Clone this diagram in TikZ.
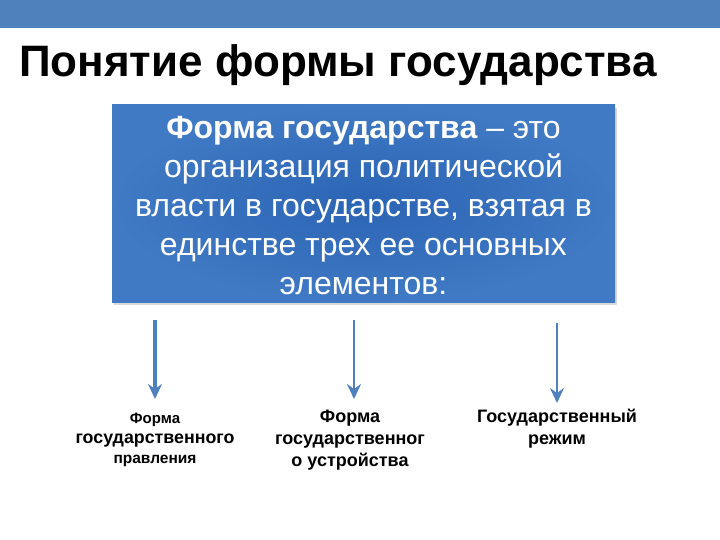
\documentclass[tikz,border=0pt]{standalone}
\usepackage{fontspec}
\setmainfont{Liberation Sans}
\usepackage{tikz}
\usetikzlibrary{calc,arrows,arrows.meta,shapes,positioning,shadows}

\definecolor{barblue}{RGB}{79,129,189}
\definecolor{boxblue}{RGB}{42,100,180}
\definecolor{boxlight}{RGB}{64,122,196}

\begin{document}
\begin{tikzpicture}[x=1pt, y=-1pt, auto,
    elem/.style={align=center, font=\bfseries\fontsize{18}{22}\selectfont, inner sep=0pt},
    arr/.style={-{Stealth[length=15pt, width=14pt, inset=5pt]}, draw=barblue, line width=3.2pt}]
   \useasboundingbox (0,0) rectangle (720,540);
   \fill[white] (0,0) rectangle (720,540);
   \node[fill=barblue, minimum width=720pt, minimum height=28pt, inner sep=0pt, anchor=north west] (bar) at (0,0) {};
   \node[anchor=base west, font=\bfseries\fontsize{44}{48}\selectfont, inner sep=0pt] (title) at (19,77) {Понятие формы государства};
   \node[minimum width=503pt, minimum height=197pt, inner sep=0pt, drop shadow={shadow xshift=2pt, shadow yshift=-3pt, opacity=.3},
         inner color=boxblue, outer color=boxlight] (def) at (363.5,203.5) {};
   \node[text=white, align=center, inner sep=0pt,
         font=\fontsize{32}{39}\selectfont] (deftext) at (363.5,206)
         {\textbf{Форма государства} -- это\\организация политической\\власти в государстве, взятая в\\единстве трех ее основных\\элементов:};
   \node[elem, font=\bfseries\fontsize{15}{20}\selectfont] (g1) at (155,440)
         {Форма\\{\fontsize{17.8}{20}\selectfont государственного}\\{\fontsize{15.5}{20}\selectfont правления}};
   \node[elem] (g2) at (350,440) {Форма\\государственног\\о устройства};
   \node[elem] (g3) at (557,429) {Государственный\\режим};
   \coordinate (s1) at (155,320);
   \coordinate (s2) at (354,320);
   \coordinate (s3) at (557,323);
   \coordinate (e1) at (155,399);
   \coordinate (e2) at (354,399);
   \coordinate (e3) at (557,403);

   \draw[arr] (s1) -- (e1);
   \draw[arr, line width=2.6pt] (s2) -- (e2);
   \draw[arr, line width=2.6pt] (s3) -- (e3);
\end{tikzpicture}
\end{document}
